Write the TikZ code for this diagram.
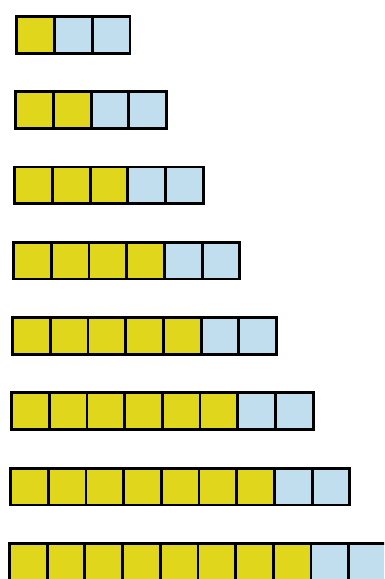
\documentclass[tikz,border=0pt]{standalone}
\usetikzlibrary{calc}
\definecolor{sqyellow}{RGB}{224,214,28}
\definecolor{sqblue}{RGB}{192,222,238}
\tikzset{
  cell/.style={rectangle, draw=black, line width=2.8pt, inner sep=0pt,
    minimum width=37.7pt, minimum height=36.8pt, anchor=north west},
  ycell/.style={cell, fill=sqyellow},
  bcell/.style={cell, fill=sqblue}
}
\begin{document}
\begin{tikzpicture}[x=1pt,y=-1pt]
\useasboundingbox (0,0) rectangle (384,579);
\clip (0,0) rectangle (384,579);
\fill[white] (0,0) rectangle (384,579);
\foreach \r in {0,...,7}{
  \pgfmathsetmacro{\lx}{15.4-1.05*\r}
  \pgfmathsetmacro{\ty}{14.9+75.3*\r}
  \pgfmathtruncatemacro{\ny}{\r+1}
  \pgfmathtruncatemacro{\nt}{\r+3}
  \foreach \c in {1,...,\nt}{
    \ifnum\c>\ny
      \node[bcell] (r\r c\c) at ({\lx+37.7*(\c-1)},\ty) {};
    \else
      \node[ycell] (r\r c\c) at ({\lx+37.7*(\c-1)},\ty) {};
    \fi
  }
}
\end{tikzpicture}
\end{document}
